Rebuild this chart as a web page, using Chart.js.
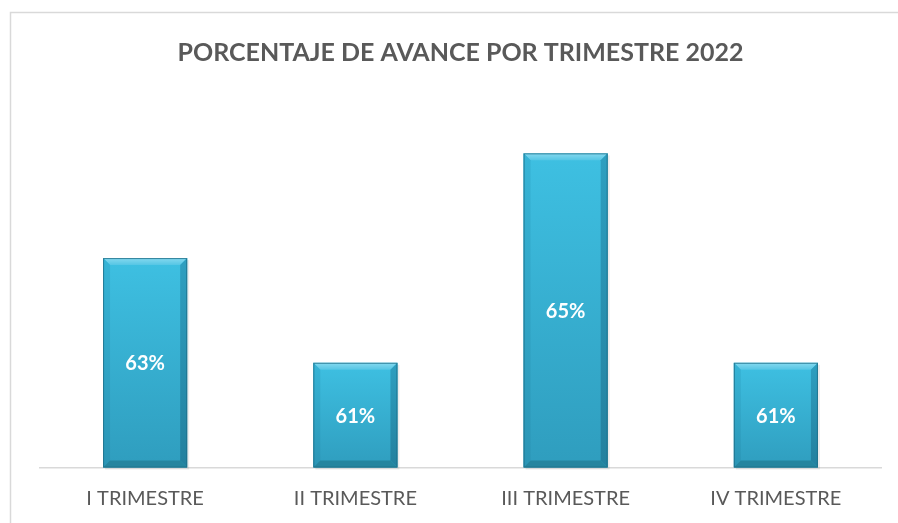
<!DOCTYPE html>
<html>
<head>
<meta charset="utf-8">
<script src="https://cdn.jsdelivr.net/npm/chart.js@4"></script>
<style>
  html, body { margin: 0; padding: 0; background: #ffffff; }
  #wrap { position: relative; width: 898px; height: 523px; }
  canvas { display: block; }
</style>
</head>
<body>
<div id="wrap"><canvas id="c" width="898" height="523"></canvas></div>
<script>
const categories = ["I TRIMESTRE", "II TRIMESTRE", "III TRIMESTRE", "IV TRIMESTRE"];
const avance = [63, 61, 65, 61];
const chartTitle = "PORCENTAJE DE AVANCE POR TRIMESTRE 2022";

const FONT = "Lato, 'Open Sans', 'Liberation Sans', sans-serif";

const framePlugin = {
  id: 'frame',
  beforeDraw(chart) {
    const ctx = chart.ctx;
    ctx.save();
    ctx.fillStyle = '#ffffff';
    ctx.fillRect(0, 0, chart.width, chart.height);
    ctx.strokeStyle = '#d9d9d9';
    ctx.lineWidth = 1.5;
    ctx.strokeRect(10.5, 12.5, chart.width + 20, chart.height + 20);
    ctx.restore();
  }
};

const bevelPlugin = {
  id: 'bevel',
  afterDatasetsDraw(chart) {
    const ctx = chart.ctx;
    const area = chart.chartArea;
    const meta = chart.getDatasetMeta(0);
    meta.data.forEach((bar, i) => {
      const p = bar.getProps(['x', 'y', 'base', 'width'], true);
      const L = p.x - p.width / 2, R = p.x + p.width / 2, T = p.y;
      const B = Math.min(p.base, area.bottom);
      const b = 7;
      ctx.save();
      // shadow
      ctx.fillStyle = 'rgba(0,0,0,0.08)';
      ctx.fillRect(L + 2, T + 2, p.width, B - T);
      // main face
      let g = ctx.createLinearGradient(0, T, 0, B);
      g.addColorStop(0, '#3ec0e2');
      g.addColorStop(1, '#2f9dbe');
      ctx.fillStyle = g;
      ctx.fillRect(L, T, p.width, B - T);
      // top bevel
      g = ctx.createLinearGradient(0, T, 0, T + b);
      g.addColorStop(0, '#86d9ef');
      g.addColorStop(1, '#55c6e5');
      ctx.fillStyle = g;
      ctx.beginPath();
      ctx.moveTo(L, T); ctx.lineTo(R, T); ctx.lineTo(R - b, T + b); ctx.lineTo(L + b, T + b); ctx.closePath();
      ctx.fill();
      // left bevel
      g = ctx.createLinearGradient(0, T, 0, B);
      g.addColorStop(0, '#37b4d6');
      g.addColorStop(1, '#2b95b5');
      ctx.fillStyle = g;
      ctx.beginPath();
      ctx.moveTo(L, T); ctx.lineTo(L + b, T + b); ctx.lineTo(L + b, B - b); ctx.lineTo(L, B); ctx.closePath();
      ctx.fill();
      // right bevel
      g = ctx.createLinearGradient(0, T, 0, B);
      g.addColorStop(0, '#2e9fc0');
      g.addColorStop(1, '#23809e');
      ctx.fillStyle = g;
      ctx.beginPath();
      ctx.moveTo(R, T); ctx.lineTo(R, B); ctx.lineTo(R - b, B - b); ctx.lineTo(R - b, T + b); ctx.closePath();
      ctx.fill();
      // bottom bevel
      ctx.fillStyle = '#25859f';
      ctx.beginPath();
      ctx.moveTo(L, B); ctx.lineTo(R, B); ctx.lineTo(R - b, B - b); ctx.lineTo(L + b, B - b); ctx.closePath();
      ctx.fill();
      // outline
      ctx.strokeStyle = 'rgba(30,110,135,0.8)';
      ctx.lineWidth = 1;
      ctx.strokeRect(L + 0.5, T + 0.5, p.width - 1, B - T - 1);
      // label
      ctx.fillStyle = '#ffffff';
      ctx.font = "bold 20px " + FONT;
      ctx.textAlign = 'center';
      ctx.textBaseline = 'middle';
      ctx.fillText(chart.data.datasets[0].data[i] + '%', p.x, (T + B) / 2 + 1);
      ctx.restore();
    });
  }
};

const ctx = document.getElementById('c').getContext('2d');
new Chart(ctx, {
  type: 'bar',
  data: {
    labels: categories,
    datasets: [{
      data: avance,
      backgroundColor: 'rgba(0,0,0,0)',
      borderWidth: 0,
      barPercentage: 0.4,
      categoryPercentage: 1.0
    }]
  },
  options: {
    responsive: false,
    animation: false,
    devicePixelRatio: 1,
    layout: { padding: { left: 40, right: 17, top: 0, bottom: 0 } },
    plugins: {
      legend: { display: false },
      tooltip: { enabled: false },
      title: {
        display: true,
        text: chartTitle,
        color: '#595959',
        font: { family: FONT, size: 25, weight: 'bold', lineHeight: 1.2 },
        padding: { top: 38, bottom: 33 }
      }
    },
    scales: {
      x: {
        grid: { display: false, drawTicks: false },
        border: { display: true, color: '#d9d9d9', width: 1.5 },
        ticks: { color: '#595959', font: { family: FONT, size: 20 }, padding: 19 },
        afterFit(scale) { scale.height = 55.5; }
      },
      y: {
        display: false,
        min: 59,
        max: 66
      }
    }
  },
  plugins: [framePlugin, bevelPlugin]
});
</script>
</body>
</html>
